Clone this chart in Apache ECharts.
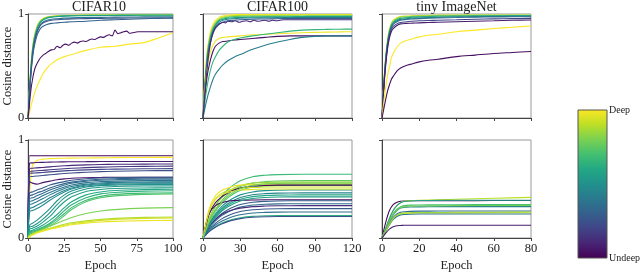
<!DOCTYPE html>
<html><head><meta charset="utf-8">
<script src="https://cdn.jsdelivr.net/npm/echarts@6/dist/echarts.min.js"></script>
<style>html,body{margin:0;padding:0;background:#fff}#c{width:640px;height:273px}</style>
</head><body><div id="c"></div>
<script>
// ---------- DATA ----------
const panelTitles = ['CIFAR10', 'CIFAR100', 'tiny ImageNet'];
const xMaxes = [100, 120, 80];
const xIntervals = [25, 30, 20];
const yLabel = 'Cosine distance';
const xLabel = 'Epoch';
const cbTop = 'Deep';
const cbBottom = 'Undeep';

// Top row, CIFAR10
const c10TopEpochs = [0,1,2,3,4,6,8,10,13,16,20,25,30,40,50,60,70,80,90,100];
const c10TopDepth = [0.98, 0.85, 0.72, 0.55, 0.40, 0.25, 0.32, 1.0];
const c10TopValues = [
  [0,0.30,0.52,0.67,0.77,0.88,0.93,0.955,0.97,0.978,0.983,0.986,0.988,0.99,0.99,0.992,0.993,0.994,0.995,0.995],
  [0,0.29,0.51,0.66,0.76,0.87,0.925,0.95,0.968,0.975,0.98,0.984,0.986,0.988,0.99,0.99,0.991,0.992,0.993,0.993],
  [0,0.28,0.50,0.65,0.75,0.86,0.92,0.945,0.965,0.972,0.978,0.982,0.985,0.987,0.988,0.989,0.99,0.99,0.991,0.991],
  [0,0.27,0.48,0.63,0.73,0.85,0.91,0.94,0.96,0.97,0.975,0.98,0.982,0.984,0.985,0.986,0.987,0.988,0.988,0.988],
  [0,0.26,0.46,0.61,0.71,0.83,0.89,0.92,0.94,0.95,0.955,0.96,0.963,0.966,0.968,0.97,0.971,0.972,0.972,0.972],
  [0,0.25,0.45,0.60,0.70,0.82,0.88,0.91,0.93,0.94,0.945,0.95,0.953,0.956,0.958,0.96,0.961,0.962,0.962,0.962],
  [0,0.24,0.43,0.57,0.67,0.79,0.85,0.88,0.90,0.91,0.915,0.92,0.925,0.93,0.94,0.945,0.95,0.955,0.958,0.96],
  [0,0.06,0.12,0.17,0.22,0.30,0.36,0.42,0.48,0.52,0.56,0.59,0.61,0.65,0.68,0.69,0.71,0.725,0.77,0.82]
];
const c10NoisyEpochs = [0,1,2,3,4,5,6,8,10,12,14,16,18,20,22,24,26,28,30,32,34,36,38,40,42,44,46,48,50,52,54,56,58,60,62,64,66,68,70,72,74,76,100];
const c10NoisyDepth = 0.05;
const c10NoisyValues = [0,0.15,0.28,0.37,0.44,0.49,0.52,0.57,0.60,0.62,0.64,0.655,0.66,0.69,0.675,0.70,0.71,0.70,0.72,0.73,0.72,0.735,0.74,0.735,0.75,0.76,0.755,0.77,0.78,0.775,0.79,0.80,0.79,0.845,0.81,0.82,0.83,0.835,0.815,0.82,0.825,0.83,0.83];

// Top row, CIFAR100
const c100TopEpochs = [0,1,2,3,4,6,8,10,13,16,20,25,30,40,50,60,70,80,90,100,110,120];
const c100TopDepth = [1.0, 0.9, 0.75, 0.6, 0.45, 0.3, 0.98, 0.05, 0.65, 0.42];
const c100TopValues = [
  [0,0.25,0.45,0.6,0.7,0.83,0.9,0.94,0.97,0.98,0.99,0.995,0.995,0.995,0.995,0.995,0.995,0.995,0.995,0.995,0.995,0.995],
  [0,0.23,0.42,0.57,0.68,0.81,0.88,0.92,0.955,0.97,0.98,0.985,0.987,0.988,0.988,0.989,0.989,0.99,0.99,0.99,0.99,0.99],
  [0,0.22,0.40,0.55,0.66,0.79,0.86,0.905,0.945,0.96,0.97,0.975,0.978,0.98,0.98,0.98,0.981,0.981,0.982,0.982,0.982,0.982],
  [0,0.21,0.39,0.53,0.64,0.77,0.85,0.895,0.935,0.95,0.96,0.965,0.968,0.97,0.972,0.973,0.974,0.975,0.975,0.975,0.975,0.975],
  [0,0.2,0.37,0.51,0.62,0.75,0.83,0.88,0.92,0.94,0.95,0.955,0.96,0.962,0.964,0.965,0.966,0.967,0.968,0.968,0.968,0.968],
  [0,0.19,0.35,0.49,0.60,0.73,0.81,0.86,0.9,0.92,0.935,0.94,0.945,0.95,0.952,0.955,0.957,0.958,0.958,0.958,0.958,0.958],
  [0,0.18,0.33,0.45,0.53,0.64,0.70,0.74,0.765,0.775,0.78,0.785,0.79,0.80,0.805,0.81,0.815,0.82,0.823,0.826,0.828,0.83],
  [0,0.14,0.27,0.37,0.45,0.56,0.64,0.69,0.72,0.735,0.74,0.75,0.755,0.765,0.775,0.785,0.79,0.79,0.79,0.79,0.79,0.79],
  [0,0.1,0.2,0.28,0.35,0.46,0.54,0.59,0.65,0.69,0.73,0.755,0.77,0.79,0.805,0.82,0.835,0.845,0.85,0.852,0.854,0.855],
  [0,0.06,0.12,0.17,0.22,0.3,0.37,0.42,0.47,0.51,0.55,0.585,0.61,0.66,0.70,0.73,0.755,0.775,0.785,0.79,0.79,0.79]
];
const c100NoisyEpochs = [0,2,4,6,8,10,12,14,16,18,20,23,26,29,32,35,38,41,44,47,50,53,56,59,62,65,120];
const c100NoisyDepth = 0.12;
const c100NoisyValues = [0,0.3,0.55,0.72,0.82,0.87,0.895,0.91,0.92,0.915,0.93,0.925,0.935,0.92,0.93,0.935,0.925,0.94,0.93,0.935,0.94,0.93,0.94,0.935,0.94,0.945,0.945];

// Top row, tiny ImageNet
const tinTopEpochs = [0,1,2,3,4,5,6,8,10,13,16,20,25,30,40,50,60,70,80];
const tinTopDepth = [0.95, 0.8, 0.62, 0.48, 0.35, 0.2, 0.08, 1.0, 0.04];
const tinTopValues = [
  [0,0.35,0.6,0.76,0.86,0.91,0.94,0.965,0.975,0.98,0.983,0.985,0.987,0.988,0.99,0.99,0.99,0.99,0.99],
  [0,0.34,0.58,0.74,0.84,0.9,0.93,0.955,0.968,0.974,0.977,0.98,0.982,0.984,0.986,0.987,0.988,0.988,0.988],
  [0,0.33,0.57,0.73,0.83,0.89,0.92,0.945,0.958,0.965,0.97,0.973,0.976,0.978,0.98,0.982,0.983,0.984,0.985],
  [0,0.32,0.56,0.72,0.82,0.88,0.91,0.935,0.948,0.955,0.96,0.963,0.966,0.969,0.972,0.975,0.977,0.978,0.979],
  [0,0.31,0.55,0.71,0.81,0.87,0.9,0.925,0.94,0.947,0.952,0.956,0.96,0.963,0.966,0.97,0.972,0.973,0.974],
  [0,0.3,0.53,0.69,0.79,0.85,0.88,0.905,0.918,0.925,0.93,0.935,0.938,0.94,0.945,0.95,0.953,0.956,0.958],
  [0,0.29,0.51,0.67,0.77,0.83,0.86,0.89,0.905,0.91,0.912,0.915,0.918,0.92,0.925,0.93,0.935,0.94,0.943],
  [0,0.16,0.30,0.41,0.49,0.575,0.62,0.68,0.72,0.745,0.76,0.78,0.795,0.805,0.83,0.845,0.86,0.873,0.885],
  [0,0.09,0.18,0.26,0.32,0.37,0.40,0.45,0.48,0.505,0.52,0.54,0.555,0.565,0.59,0.605,0.62,0.63,0.64]
];

// Bottom row, CIFAR10
const c10BotEpochs = [0,1,3,6,10,15,20,25,30,40,50,60,80,100];
const c10BotDepth = [0.02,1.0,0.08,0.12,0.16,0.2,0.24,0.06,0.29,0.32,0.35,0.38,0.41,0.44,0.47,0.5,0.53,0.56,0.6,0.64,0.68,0.72,0.8,0.88,0.93,0.97];
const c10BotValues = [
  [0,0.84,0.84,0.84,0.84,0.84,0.84,0.84,0.84,0.84,0.84,0.84,0.84,0.84],
  [0,0.45,0.74,0.79,0.805,0.81,0.812,0.814,0.815,0.817,0.818,0.82,0.822,0.823],
  [0,0.765,0.767,0.77,0.772,0.774,0.776,0.777,0.778,0.779,0.78,0.78,0.78,0.78],
  [0,0.71,0.712,0.716,0.72,0.726,0.732,0.737,0.741,0.746,0.75,0.752,0.754,0.755],
  [0,0.68,0.682,0.686,0.69,0.696,0.702,0.707,0.711,0.718,0.723,0.727,0.731,0.733],
  [0,0.66,0.662,0.665,0.669,0.675,0.68,0.685,0.689,0.695,0.7,0.703,0.706,0.708],
  [0,0.625,0.628,0.633,0.638,0.645,0.652,0.658,0.663,0.671,0.677,0.681,0.686,0.688],
  [0,0.575,0.56,0.55,0.565,0.58,0.595,0.603,0.61,0.615,0.618,0.62,0.62,0.62],
  [0,0.46,0.47,0.49,0.51,0.54,0.56,0.575,0.59,0.605,0.612,0.616,0.62,0.62],
  [0,0.43,0.44,0.46,0.48,0.51,0.535,0.555,0.57,0.59,0.6,0.605,0.61,0.61],
  [0,0.40,0.41,0.43,0.455,0.49,0.515,0.54,0.56,0.58,0.59,0.595,0.6,0.6],
  [0,0.37,0.38,0.40,0.43,0.465,0.495,0.52,0.54,0.565,0.575,0.58,0.585,0.585],
  [0,0.34,0.35,0.37,0.40,0.44,0.475,0.505,0.525,0.55,0.562,0.568,0.572,0.573],
  [0,0.30,0.31,0.335,0.365,0.41,0.45,0.485,0.51,0.54,0.552,0.558,0.562,0.563],
  [0,0.27,0.28,0.30,0.335,0.385,0.43,0.47,0.5,0.53,0.543,0.548,0.552,0.553],
  [0,0.13,0.15,0.18,0.23,0.3,0.38,0.44,0.48,0.52,0.535,0.54,0.545,0.545],
  [0,0.11,0.12,0.145,0.19,0.26,0.34,0.41,0.455,0.5,0.518,0.525,0.53,0.53],
  [0,0.09,0.1,0.12,0.16,0.22,0.3,0.37,0.42,0.475,0.495,0.505,0.51,0.512],
  [0,0.07,0.08,0.1,0.13,0.18,0.24,0.31,0.37,0.44,0.47,0.485,0.495,0.498],
  [0,0.06,0.07,0.085,0.11,0.15,0.21,0.28,0.34,0.41,0.45,0.465,0.478,0.482],
  [0,0.05,0.06,0.075,0.1,0.14,0.19,0.25,0.31,0.385,0.425,0.445,0.458,0.462],
  [0,0.04,0.05,0.065,0.09,0.125,0.17,0.23,0.29,0.37,0.41,0.43,0.445,0.45],
  [0,0.02,0.04,0.06,0.09,0.12,0.15,0.18,0.21,0.25,0.275,0.29,0.305,0.31],
  [0,0.02,0.04,0.06,0.08,0.1,0.12,0.14,0.155,0.175,0.19,0.2,0.21,0.215],
  [0,0.02,0.035,0.055,0.075,0.095,0.115,0.13,0.145,0.165,0.18,0.19,0.2,0.205],
  [0,0.015,0.03,0.05,0.07,0.09,0.105,0.12,0.135,0.152,0.163,0.17,0.177,0.18]
];

// Bottom row, CIFAR100
const c100BotEpochs = [0,5,10,15,20,25,30,40,50,60,80,120];
const c100BotDepth = [0.68,0.75,0.85,0.98,0.72,0.92,0.5,0.45,0.6,0.03,0.02,0.3,0.35,0.12,0.28,0.38,0.62,0.25,0.95,0.55,0.8];
const c100BotValues = [
  [0,0.195,0.325,0.42,0.495,0.545,0.585,0.625,0.64,0.647,0.65,0.65],
  [0,0.175,0.29,0.38,0.445,0.49,0.525,0.56,0.575,0.582,0.585,0.585],
  [0,0.2,0.33,0.41,0.47,0.51,0.535,0.56,0.567,0.57,0.57,0.57],
  [0,0.3,0.43,0.485,0.51,0.53,0.54,0.545,0.55,0.55,0.55,0.55],
  [0,0.16,0.27,0.35,0.41,0.455,0.485,0.52,0.532,0.537,0.54,0.54],
  [0,0.28,0.4,0.455,0.485,0.5,0.51,0.515,0.52,0.52,0.52,0.52],
  [0,0.147,0.245,0.32,0.372,0.41,0.44,0.47,0.483,0.488,0.49,0.49],
  [0,0.138,0.23,0.3,0.35,0.386,0.414,0.442,0.453,0.458,0.46,0.46],
  [0,0.132,0.22,0.286,0.334,0.37,0.396,0.422,0.433,0.438,0.44,0.44],
  [0,0.25,0.33,0.36,0.375,0.382,0.385,0.388,0.39,0.39,0.39,0.39],
  [0,0.25,0.36,0.42,0.46,0.49,0.51,0.53,0.537,0.54,0.54,0.54],
  [0,0.114,0.19,0.247,0.289,0.319,0.342,0.365,0.374,0.378,0.38,0.38],
  [0,0.105,0.175,0.228,0.266,0.294,0.315,0.336,0.345,0.348,0.35,0.35],
  [0,0.12,0.19,0.24,0.27,0.29,0.305,0.32,0.326,0.329,0.33,0.33],
  [0,0.09,0.15,0.195,0.228,0.252,0.27,0.288,0.296,0.299,0.3,0.3],
  [0,0.08,0.133,0.172,0.2,0.222,0.238,0.255,0.261,0.264,0.265,0.265],
  [0,0.07,0.115,0.15,0.175,0.193,0.207,0.221,0.227,0.229,0.23,0.23],
  [0,0.066,0.11,0.143,0.167,0.185,0.198,0.211,0.217,0.219,0.22,0.22],
  [0,0.27,0.39,0.44,0.465,0.48,0.49,0.495,0.5,0.5,0.5,0.5],
  [0,0.126,0.21,0.273,0.319,0.353,0.378,0.403,0.414,0.418,0.42,0.42],
  [0,0.168,0.28,0.364,0.426,0.47,0.504,0.538,0.552,0.557,0.56,0.56]
];

// Bottom row, tiny ImageNet
const tinBotEpochs = [0,2,4,6,8,10,12,15,20,30,40,60,80];
const tinBotDepth = [0.03,0.9,0.55,0.7,0.45,0.78,0.35,0.97,0.4,0.85,0.08];
const tinBotValues = [
  [0,0.16,0.28,0.34,0.365,0.375,0.378,0.38,0.38,0.38,0.38,0.382,0.383],
  [0,0.1,0.2,0.28,0.33,0.36,0.375,0.38,0.385,0.39,0.395,0.405,0.415],
  [0,0.1,0.2,0.28,0.33,0.36,0.372,0.378,0.382,0.384,0.385,0.385,0.385],
  [0,0.09,0.18,0.25,0.295,0.32,0.33,0.335,0.337,0.338,0.34,0.341,0.342],
  [0,0.085,0.17,0.235,0.28,0.305,0.313,0.317,0.318,0.32,0.32,0.32,0.32],
  [0,0.085,0.17,0.24,0.285,0.31,0.32,0.325,0.327,0.328,0.33,0.332,0.333],
  [0,0.075,0.15,0.21,0.245,0.262,0.268,0.272,0.274,0.275,0.275,0.275,0.275],
  [0,0.07,0.14,0.195,0.228,0.243,0.25,0.253,0.255,0.255,0.256,0.257,0.258],
  [0,0.07,0.135,0.19,0.22,0.235,0.24,0.243,0.245,0.245,0.245,0.245,0.245],
  [0,0.07,0.14,0.2,0.235,0.25,0.256,0.258,0.26,0.26,0.262,0.263,0.265],
  [0,0.05,0.09,0.115,0.125,0.128,0.13,0.13,0.13,0.13,0.13,0.13,0.13]
];

// ---------- BUILD ----------
const viridisStops = [
  [0.0,'#440154'],[0.1,'#482475'],[0.2,'#414487'],[0.3,'#355f8d'],[0.4,'#2a788e'],
  [0.5,'#21918c'],[0.6,'#22a884'],[0.7,'#44bf70'],[0.8,'#7ad151'],[0.9,'#bddf26'],[1.0,'#fde725']
];
function hex2rgb(h){return [parseInt(h.slice(1,3),16),parseInt(h.slice(3,5),16),parseInt(h.slice(5,7),16)];}
function viridis(t){
  t = Math.max(0, Math.min(1, t));
  for (let i = 0; i < viridisStops.length - 1; i++) {
    const [t0,c0] = viridisStops[i], [t1,c1] = viridisStops[i+1];
    if (t <= t1) {
      const f = (t - t0) / (t1 - t0), a = hex2rgb(c0), b = hex2rgb(c1);
      return 'rgb(' + a.map((v,k)=>Math.round(v + (b[k]-v)*f)).join(',') + ')';
    }
  }
  return viridisStops[viridisStops.length-1][1];
}
const zip = (e, v) => v.map((y, i) => [e[i], y]).filter(p => p[0] !== undefined);

const panels = [
  {row:0,col:0,lines:[...c10TopValues.map((v,i)=>({t:c10TopDepth[i],d:zip(c10TopEpochs,v)})),{t:c10NoisyDepth,d:zip(c10NoisyEpochs,c10NoisyValues)}]},
  {row:0,col:1,lines:[...c100TopValues.map((v,i)=>({t:c100TopDepth[i],d:zip(c100TopEpochs,v)})),{t:c100NoisyDepth,d:zip(c100NoisyEpochs,c100NoisyValues)}]},
  {row:0,col:2,lines:tinTopValues.map((v,i)=>({t:tinTopDepth[i],d:zip(tinTopEpochs,v)}))},
  {row:1,col:0,lines:c10BotValues.map((v,i)=>({t:c10BotDepth[i],d:zip(c10BotEpochs,v)}))},
  {row:1,col:1,lines:c100BotValues.map((v,i)=>({t:c100BotDepth[i],d:zip(c100BotEpochs,v)}))},
  {row:1,col:2,lines:tinBotValues.map((v,i)=>({t:tinBotDepth[i],d:zip(tinBotEpochs,v)}))}
];

const FONT = 'Liberation Serif';
const gLeft = [25, 203, 382], gWidth = [148, 149, 149], gTop = [14, 140], gHeight = 104;
const grid = [], xAxis = [], yAxis = [], series = [];
panels.forEach((p, gi) => {
  grid.push({left: gLeft[p.col], top: gTop[p.row], width: gWidth[p.col], height: gHeight,
    show: true, borderColor: '#999', borderWidth: 1, containLabel: false});
  xAxis.push({gridIndex: gi, type: 'value', min: 0, max: xMaxes[p.col], interval: xIntervals[p.col],
    axisLine: {show: true, onZero: false, lineStyle: {color: '#444', width: 1}},
    axisTick: {show: true, length: 3, lineStyle: {color: '#444'}},
    axisLabel: {show: p.row === 1, fontFamily: FONT, fontSize: 12.5, color: '#222', margin: 4},
    splitLine: {show: false},
    name: p.row === 1 ? xLabel : '', nameLocation: 'middle', nameGap: 21,
    nameTextStyle: {fontFamily: FONT, fontSize: 12.5, color: '#222'}});
  yAxis.push({gridIndex: gi, type: 'value', min: 0, max: 1, interval: 1,
    axisLine: {show: true, onZero: false, lineStyle: {color: '#444', width: 1}},
    axisTick: {show: true, length: 3, lineStyle: {color: '#444'}},
    axisLabel: {show: p.col === 0, fontFamily: FONT, fontSize: 12.5, color: '#222', margin: 4},
    splitLine: {show: false},
    name: p.col === 0 ? yLabel : '', nameLocation: 'middle', nameGap: 12, nameRotate: 90,
    nameTextStyle: {fontFamily: FONT, fontSize: 12.5, color: '#222'}});
  p.lines.forEach(l => {
    series.push({type: 'line', xAxisIndex: gi, yAxisIndex: gi, data: l.d, symbol: 'none',
      smooth: 0.3, silent: true, animation: false, clip: true,
      lineStyle: {color: viridis(l.t), width: 1.1}});
  });
});

const graphic = [];
panelTitles.forEach((t, c) => {
  graphic.push({type: 'text', x: gLeft[c] + gWidth[c] / 2, y: 7,
    style: {text: t, font: '14px "' + FONT + '"', fill: '#222', textAlign: 'center', textVerticalAlign: 'middle'}});
});
const cbStops = viridisStops.map(s => ({offset: s[0], color: s[1]}));
graphic.push({type: 'rect', shape: {x: 578, y: 110, width: 29, height: 148},
  style: {fill: new echarts.graphic.LinearGradient(0, 1, 0, 0, cbStops), stroke: '#555', lineWidth: 1}});
graphic.push({type: 'text', x: 609, y: 110, style: {text: cbTop, font: '10px "' + FONT + '"', fill: '#222', textVerticalAlign: 'middle'}});
graphic.push({type: 'text', x: 609, y: 258, style: {text: cbBottom, font: '10px "' + FONT + '"', fill: '#222', textVerticalAlign: 'middle'}});

const chart = echarts.init(document.getElementById('c'), null, {renderer: 'canvas'});
chart.setOption({animation: false, backgroundColor: '#fff', grid, xAxis, yAxis, series, graphic});
</script>
</body></html>
